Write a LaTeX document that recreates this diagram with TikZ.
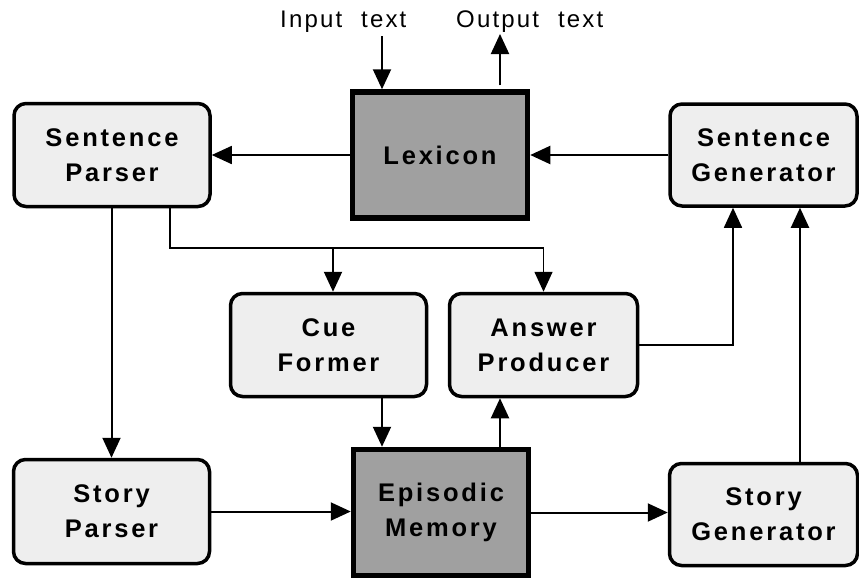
\documentclass[tikz,border=0pt]{standalone}
\usepackage{fontspec}
\setmainfont{Liberation Sans}
\newfontfamily\boxfont[LetterSpace=11]{Liberation Sans}
\newfontfamily\labelfont[LetterSpace=9]{Liberation Sans}
\usetikzlibrary{arrows.meta,calc,positioning}
\definecolor{boxgray}{HTML}{EEEEEE}
\definecolor{memgray}{HTML}{A0A0A0}

\begin{document}
\begin{tikzpicture}[x=1pt,y=-1pt,
    module/.style={draw, line width=3.5pt, rounded corners=12pt, fill=boxgray,
        inner sep=0pt, outer sep=auto, align=center,
        font=\boxfont\bfseries\fontsize{25.5}{35}\selectfont},
    store/.style={draw, line width=5.5pt, fill=memgray, minimum width=175pt,
        minimum height=126pt, inner sep=0pt, outer sep=auto, align=center,
        font=\boxfont\bfseries\fontsize{25.5}{35}\selectfont},
    iolabel/.style={anchor=base west, inner sep=0pt, font=\labelfont\fontsize{24}{26}\selectfont},
    link/.style={line width=2pt, -{Triangle[length=20pt,width=18pt]}},
    plain/.style={line width=1.6pt}]
            \useasboundingbox (0,0) rectangle (859,581);
            % Define modules
            \node[store] (lex) at (440,155) {Lexicon};
            \node[store] (em) at (441,512.5) {Episodic\\Memory};
            \node[module, minimum width=196pt, minimum height=103pt] (sp) at (112,155) {Sentence\\Parser};
            \node[module, minimum width=187pt, minimum height=102pt] (sg) at (763.5,155) {Sentence\\Generator};
            \node[module, minimum width=196pt, minimum height=103pt] (cf) at (328.5,345) {Cue\\Former};
            \node[module, minimum width=188pt, minimum height=103pt] (ap) at (543.5,345) {Answer\\Producer};
            \node[module, minimum width=196pt, minimum height=104pt] (stp) at (111.5,511.5) {Story\\Parser};
            \node[module, minimum width=188pt, minimum height=102pt] (stg) at (763.5,514.5) {Story\\Generator};
            % Text in and out
            \node[iolabel] (intext) at (280,27) {Input\hspace{19pt}text};
            \node[iolabel] (outtext) at (456,27) {Output\hspace{19pt}text};
            \coordinate (in) at (382,36);
            \coordinate (out) at (500,34);
            \coordinate (bus) at (170,248);
            \draw[link] (in) -- (in |- lex.north);
            \draw[link] ([yshift=4pt]lex.north -| out) -- (out);
            % Sentence level
            \draw[link, plain] (lex) -- (sp);
            \draw[link] (sg) -- (lex);
            \draw[link] (stp.north |- sp.south) -- (stp.north);
            \draw[link, plain] (sp.south -| bus) -- (bus) -| (ap.north);
            \draw[link] ([xshift=4.5pt]cf.north |- bus) -- ([xshift=4.5pt]cf.north);
            % Memory
            \draw[link] ([xshift=53.5pt]cf.south) -- ([xshift=53.5pt]cf.south |- em.north);
            \draw[link] ([xshift=59pt]em.north) -- ([xshift=59pt]em.north |- ap.south);
            \draw[link, plain] (ap.east) -| ([xshift=-30.5pt]sg.south);
            \draw[link] ([xshift=36.5pt]stg.north) -- ([xshift=36.5pt]sg.south);
            % Story level
            \draw[link] (stp.east) -- (stp.east -| em.west);
            \draw[link] (em.east) -- (em.east -| stg.west);
          \end{tikzpicture}
\end{document}
